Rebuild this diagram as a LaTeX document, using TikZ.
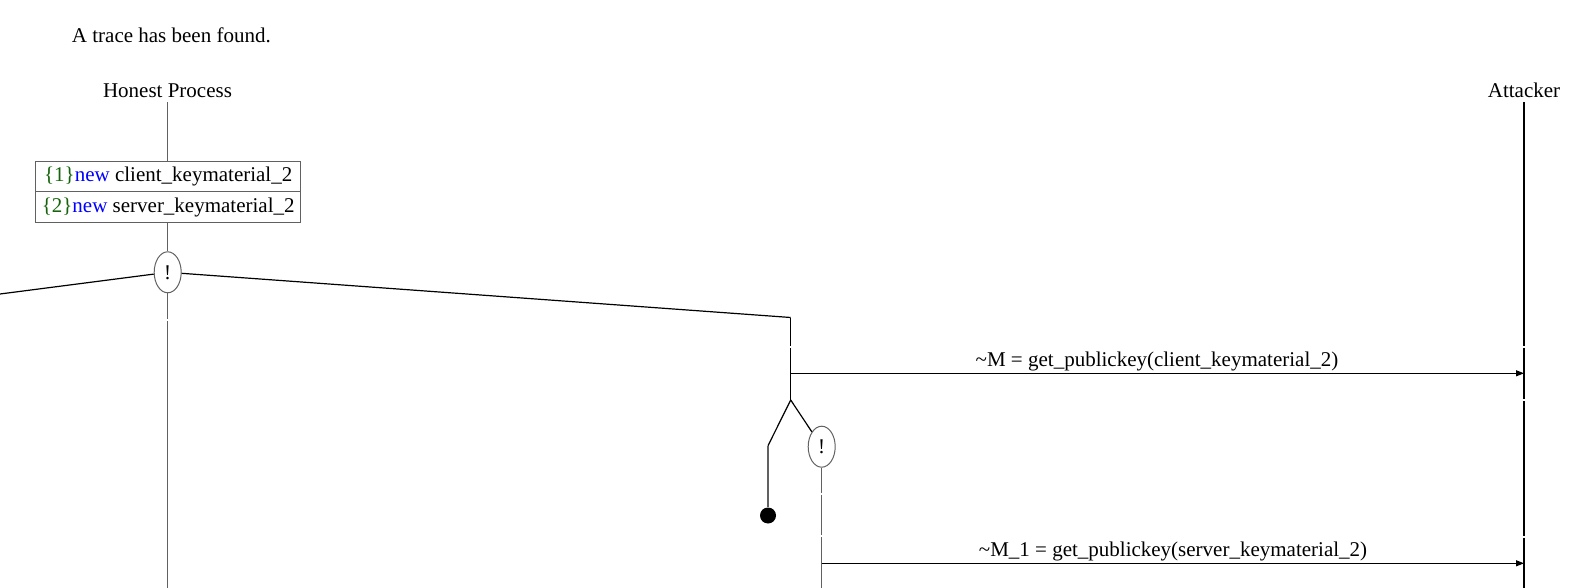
\documentclass[tikz,border=0pt]{standalone}
\usepackage{fontspec}
\setmainfont{Liberation Serif}
\usetikzlibrary{arrows.meta,positioning,shapes.geometric}
\definecolor{lifegray}{gray}{0.38}
\definecolor{occgreen}{RGB}{20,100,10}

\begin{document}
\begin{tikzpicture}[x=1pt,y=-1pt,>={Triangle[length=8pt,width=6pt]},
 font=\fontsize{21}{25}\selectfont,line width=1.2pt,
 life/.style={draw=lifegray,line width=1.2pt},
 rep/.style={draw=lifegray,line width=1pt,ellipse,minimum width=27pt,minimum height=41pt,inner sep=0pt},
 row/.style={draw=lifegray,line width=1pt,minimum width=264.5pt,minimum height=30.5pt,inner sep=0pt},
 msg/.style={->,line width=1.2pt}]
\useasboundingbox (0,0) rectangle (1580,588);
\coordinate (bot) at (0,588);
% headings
\node[anchor=base west] (title) at (68,43) {A trace has been found.};
\node[anchor=base] (hp) at (167.5,98) {Honest Process};
\node[anchor=base] (att) at (1524,98) {Attacker};
% honest process, first part
\node[row] (k1) at (168.2,176.5) {\textcolor{occgreen}{\{1\}}\textcolor{blue}{new} client\_keymaterial\_2};
\node[row] (k2) at (168.2,207) {\textcolor{occgreen}{\{2\}}\textcolor{blue}{new} server\_keymaterial\_2};
\draw[life] (hp.south) -- (hp.south |- k1.north);
\node[rep] (rep1) at (167.7,272.3) {!};
\draw[life] (k2.south -| rep1) -- (rep1.north);
\draw[life] (rep1.south) -- ++(0,25.5) ++(0,2) -- (rep1.south |- bot);
\coordinate (off) at (0,294);
\coordinate (br1) at (790.7,317.5);
\draw (rep1) -- (off);
\draw (rep1) -- (br1);
% second copy
\coordinate (m1) at (790.7,373.3);
\coordinate (fork) at (790.7,400);
\draw (br1) -- ++(0,28.5) ++(0,2) -- (fork);
\draw[msg] (m1) -- (m1 -| att);
\node[anchor=base] (l1) at (1157,366) {\textasciitilde M = get\_publickey(client\_keymaterial\_2)};
\coordinate (fk1) at (768,445.7);
\node[rep] (rep2) at (821.7,446.7) {!};
\node[circle,fill,inner sep=0pt,minimum size=16pt] (end1) at (768,515.5) {};
\draw (fork) -- (fk1);
\draw (fork) -- (rep2);
\draw[life] (fk1) -- (end1);
\draw[life] (rep2.south) -- ++(0,25) ++(0,2) -- ++(0,40.5) ++(0,2) -- (rep2.south |- bot);
\coordinate (m2) at (821.7,563.3);
\draw[msg] (m2) -- (m2 -| att);
\node[anchor=base] (l2) at (1173,556) {\textasciitilde M\_1 = get\_publickey(server\_keymaterial\_2)};
% attacker
\draw (att.south |- hp.south) -- (1524,345.7) ++(0,2) -- (1524,399) ++(0,2) -- (1524,535.7) ++(0,2) -- (att.south |- bot);
\end{tikzpicture}
\end{document}
